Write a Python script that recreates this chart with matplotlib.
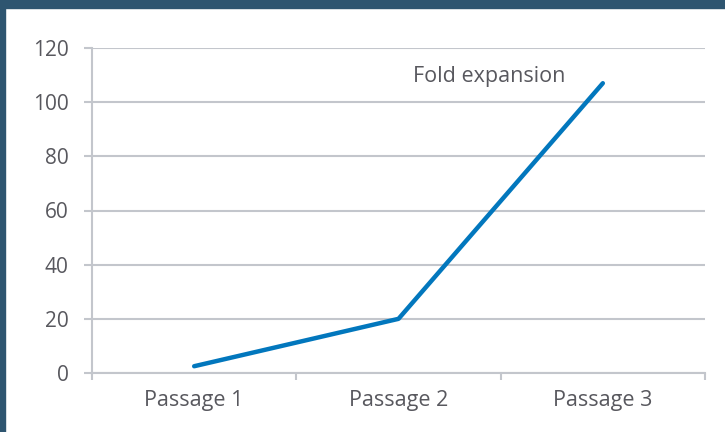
import matplotlib.pyplot as plt
from matplotlib.patches import Rectangle

## chart data
passages = ["Passage 1", "Passage 2", "Passage 3"]
fold_expansion = [2.5, 20, 107]
y_ticks = [0, 20, 40, 60, 80, 100, 120]
series_name = "Fold expansion"

plt.rcParams['font.family'] = ['Open Sans', 'DejaVu Sans']

fig = plt.figure(figsize=(7.25, 4.32), dpi=100)
fig.patch.set_facecolor("white")

## dark frame on top and left edge
fig.patches.append(Rectangle((0, 1 - 8 / 432), 1, 8 / 432, transform=fig.transFigure,
                             color="#2E5570", zorder=0))
fig.patches.append(Rectangle((0, 0), 5 / 725, 1, transform=fig.transFigure,
                             color="#2E5570", zorder=0))

ax = fig.add_axes([92 / 725, 1 - 373 / 432, (705 - 92) / 725, (373 - 48) / 432])

grid_col = "#C3C6CC"
text_col = "#58585E"
x = list(range(len(passages)))

ax.plot(x, fold_expansion, color="#0277BD", lw=3.2, solid_capstyle="round", zorder=3)

ax.set_xlim(-0.5, len(passages) - 0.5)
ax.set_ylim(0, 120)
ax.set_yticks(y_ticks)
ax.yaxis.grid(True, color=grid_col, lw=1.5)
ax.set_axisbelow(True)

## boundary ticks without labels, category labels on minor ticks
ax.set_xticks([i - 0.5 for i in range(len(passages) + 1)])
ax.set_xticklabels([])
ax.set_xticks(x, minor=True)
ax.set_xticklabels(passages, minor=True)
ax.tick_params(axis="x", which="major", length=5, width=1.5, color=grid_col)
ax.tick_params(axis="x", which="minor", length=0, pad=12, labelsize=15.5, labelcolor=text_col)
ax.tick_params(axis="y", length=6, width=1.5, color=grid_col, pad=11,
               labelsize=15, labelcolor=text_col)

for s in ["top", "right"]:
    ax.spines[s].set_visible(False)
for s in ["left", "bottom"]:
    ax.spines[s].set_color(grid_col)
    ax.spines[s].set_linewidth(1.5)

ax.text(1.07, 109.5, series_name, color=text_col, fontsize=15.5, va="center", ha="left")

fig.savefig("out.png", dpi=100)
